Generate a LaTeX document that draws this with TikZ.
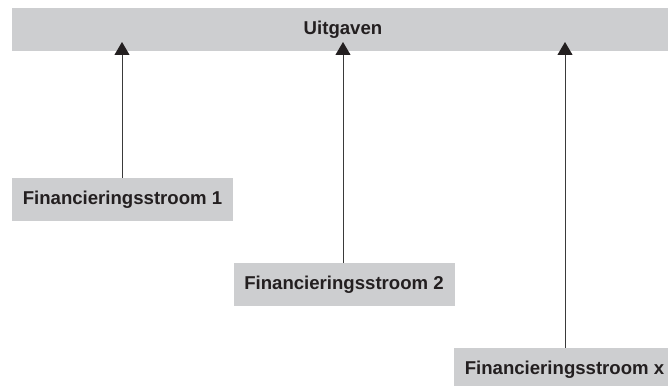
\documentclass[tikz,border=0pt]{standalone}
\usepackage{fontspec}
\setmainfont{Liberation Sans}
\usetikzlibrary{arrows.meta}
\definecolor{boxgray}{HTML}{CDCED0}
\definecolor{ink}{HTML}{231F20}
\definecolor{linegray}{HTML}{3A3A3A}
\begin{document}
\begin{tikzpicture}[x=0.5pt,y=-0.5pt,
  bar/.style={fill=boxgray, draw=none, inner sep=0pt, text=ink,
    font=\fontsize{9.3pt}{11pt}\selectfont\bfseries},
  srcbox/.style={fill=boxgray, draw=none, inner sep=0pt, text=ink,
    minimum width=110.5pt, minimum height=21.5pt,
    font=\fontsize{9.3pt}{11pt}\selectfont\bfseries},
  link/.style={draw=linegray, line width=0.5pt,
    -{Triangle[width=7.5pt,length=6.5pt,color=ink]}}]
\useasboundingbox (0,0) rectangle (668,385);
\node[bar, minimum width=331pt, minimum height=21.5pt] (uit) at (343,29.5) {Uitgaven};
\node[srcbox] (f1) at (122.5,199.5) {Financieringsstroom 1};
\node[srcbox] (f2) at (344,284.5) {Financieringsstroom 2};
\node[srcbox] (f3) at (564.5,369.5) {Financieringsstroom x};
\coordinate (t1) at (122,42);
\coordinate (t2) at (343,42);
\coordinate (t3) at (565,42);
\draw[link] (f1.north -| t1) -- (t1);
\draw[link] (f2.north -| t2) -- (t2);
\draw[link] (f3.north -| t3) -- (t3);
\end{tikzpicture}
\end{document}
